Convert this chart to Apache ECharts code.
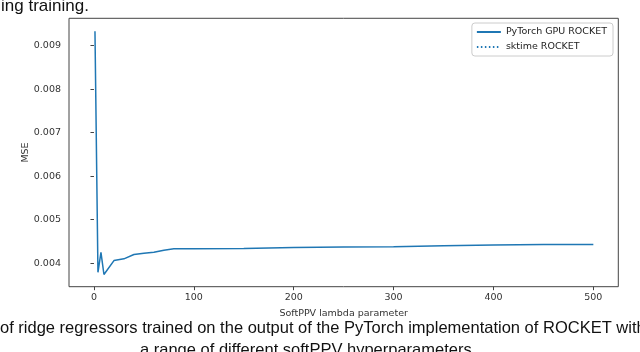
<!DOCTYPE html>
<html>
<head>
<meta charset="utf-8">
<script src="https://cdn.jsdelivr.net/npm/echarts@6/dist/echarts.min.js"></script>
<style>html,body{margin:0;padding:0;background:#fff}#c{width:640px;height:352px}</style>
</head>
<body>
<div id="c"></div>
<script>
const lambdaValues = [1, 4, 7, 10, 20, 30, 40, 50, 60, 70, 80, 90, 100, 150, 200, 250, 300, 350, 400, 450, 500];
const gpuMSE = [0.00933, 0.00379, 0.00425, 0.00374, 0.00406, 0.00410, 0.00420, 0.00423, 0.00425, 0.00430, 0.00433, 0.00433, 0.00433, 0.00434, 0.00436, 0.00437, 0.00438, 0.00440, 0.00442, 0.00443, 0.00443];
const sktimeMSE = 0.00449;
const xTicks = [0, 100, 200, 300, 400, 500];
const yTicks = [0.004, 0.005, 0.006, 0.007, 0.008, 0.009];
const topText = 'ing training.';
const captionLine1 = 'of ridge regressors trained on the output of the PyTorch implementation of ROCKET with';
const captionLine2 = 'a range of different softPPV hyperparameters';

const chart = echarts.init(document.getElementById('c'), null, {renderer: 'canvas'});
const tickFont = {fontFamily: 'DejaVu Sans', fontSize: 9.5, color: '#333'};
chart.setOption({
  animation: false,
  backgroundColor: '#fff',
  grid: {left: 69, right: 21.7, top: 18.3, bottom: 65.3, show: true, borderColor: '#444', borderWidth: 1, backgroundColor: 'transparent'},
  xAxis: {
    type: 'value', min: -25, max: 525,
    name: 'SoftPPV lambda parameter', nameLocation: 'middle', nameGap: 22, nameMoveOverlap: false,
    nameTextStyle: tickFont,
    axisLine: {show: false},
    axisTick: {show: true, length: 3.5, lineStyle: {color: '#444'}, customValues: xTicks},
    axisLabel: Object.assign({margin: 6, customValues: xTicks}, tickFont),
    splitLine: {show: false}
  },
  yAxis: {
    type: 'value', min: 0.00346, max: 0.00963,
    name: 'MSE', nameLocation: 'middle', nameGap: 38, nameMoveOverlap: false,
    nameTextStyle: tickFont,
    axisLine: {show: false},
    axisTick: {show: true, length: 3.5, lineStyle: {color: '#444'}, customValues: yTicks},
    axisLabel: Object.assign({margin: 8, customValues: yTicks, formatter: v => v.toFixed(3)}, tickFont),
    splitLine: {show: false}
  },
  legend: {
    orient: 'vertical', right: 27, top: 23,
    padding: [4, 6, 4, 4], itemGap: 5, itemWidth: 24, itemHeight: 10,
    borderColor: '#ccc', borderWidth: 1, borderRadius: 3, backgroundColor: '#fff',
    itemStyle: {opacity: 0},
    textStyle: {fontFamily: 'DejaVu Sans', fontSize: 9.5, color: '#222'},
    data: ['PyTorch GPU ROCKET', 'sktime ROCKET']
  },
  series: [
    {
      name: 'PyTorch GPU ROCKET', type: 'line', symbol: 'none',
      data: lambdaValues.map((x, i) => [x, gpuMSE[i]]),
      lineStyle: {color: '#1f77b4', width: 1.5}, itemStyle: {color: '#1f77b4'}
    },
    {
      name: 'sktime ROCKET', type: 'line', symbol: 'none', data: [],
      lineStyle: {color: '#1f77b4', width: 1.5, type: [1.5, 2.5]}, itemStyle: {color: '#1f77b4'},
      markLine: {
        silent: true, symbol: 'none', label: {show: false},
        lineStyle: {color: '#1f77b4', width: 1.5, type: [1.5, 2.5]},
        data: [{yAxis: sktimeMSE}]
      }
    }
  ],
  graphic: [
    {type: 'text', left: 1, top: -2, style: {text: topText, font: '17px "Liberation Sans"', fill: '#111'}},
    {type: 'text', left: 0, top: 320, style: {text: captionLine1, font: '16.5px "Liberation Sans"', fill: '#111'}},
    {type: 'text', left: 140, top: 342, style: {text: captionLine2, font: '16.5px "Liberation Sans"', fill: '#111'}}
  ]
});
</script>
</body>
</html>
